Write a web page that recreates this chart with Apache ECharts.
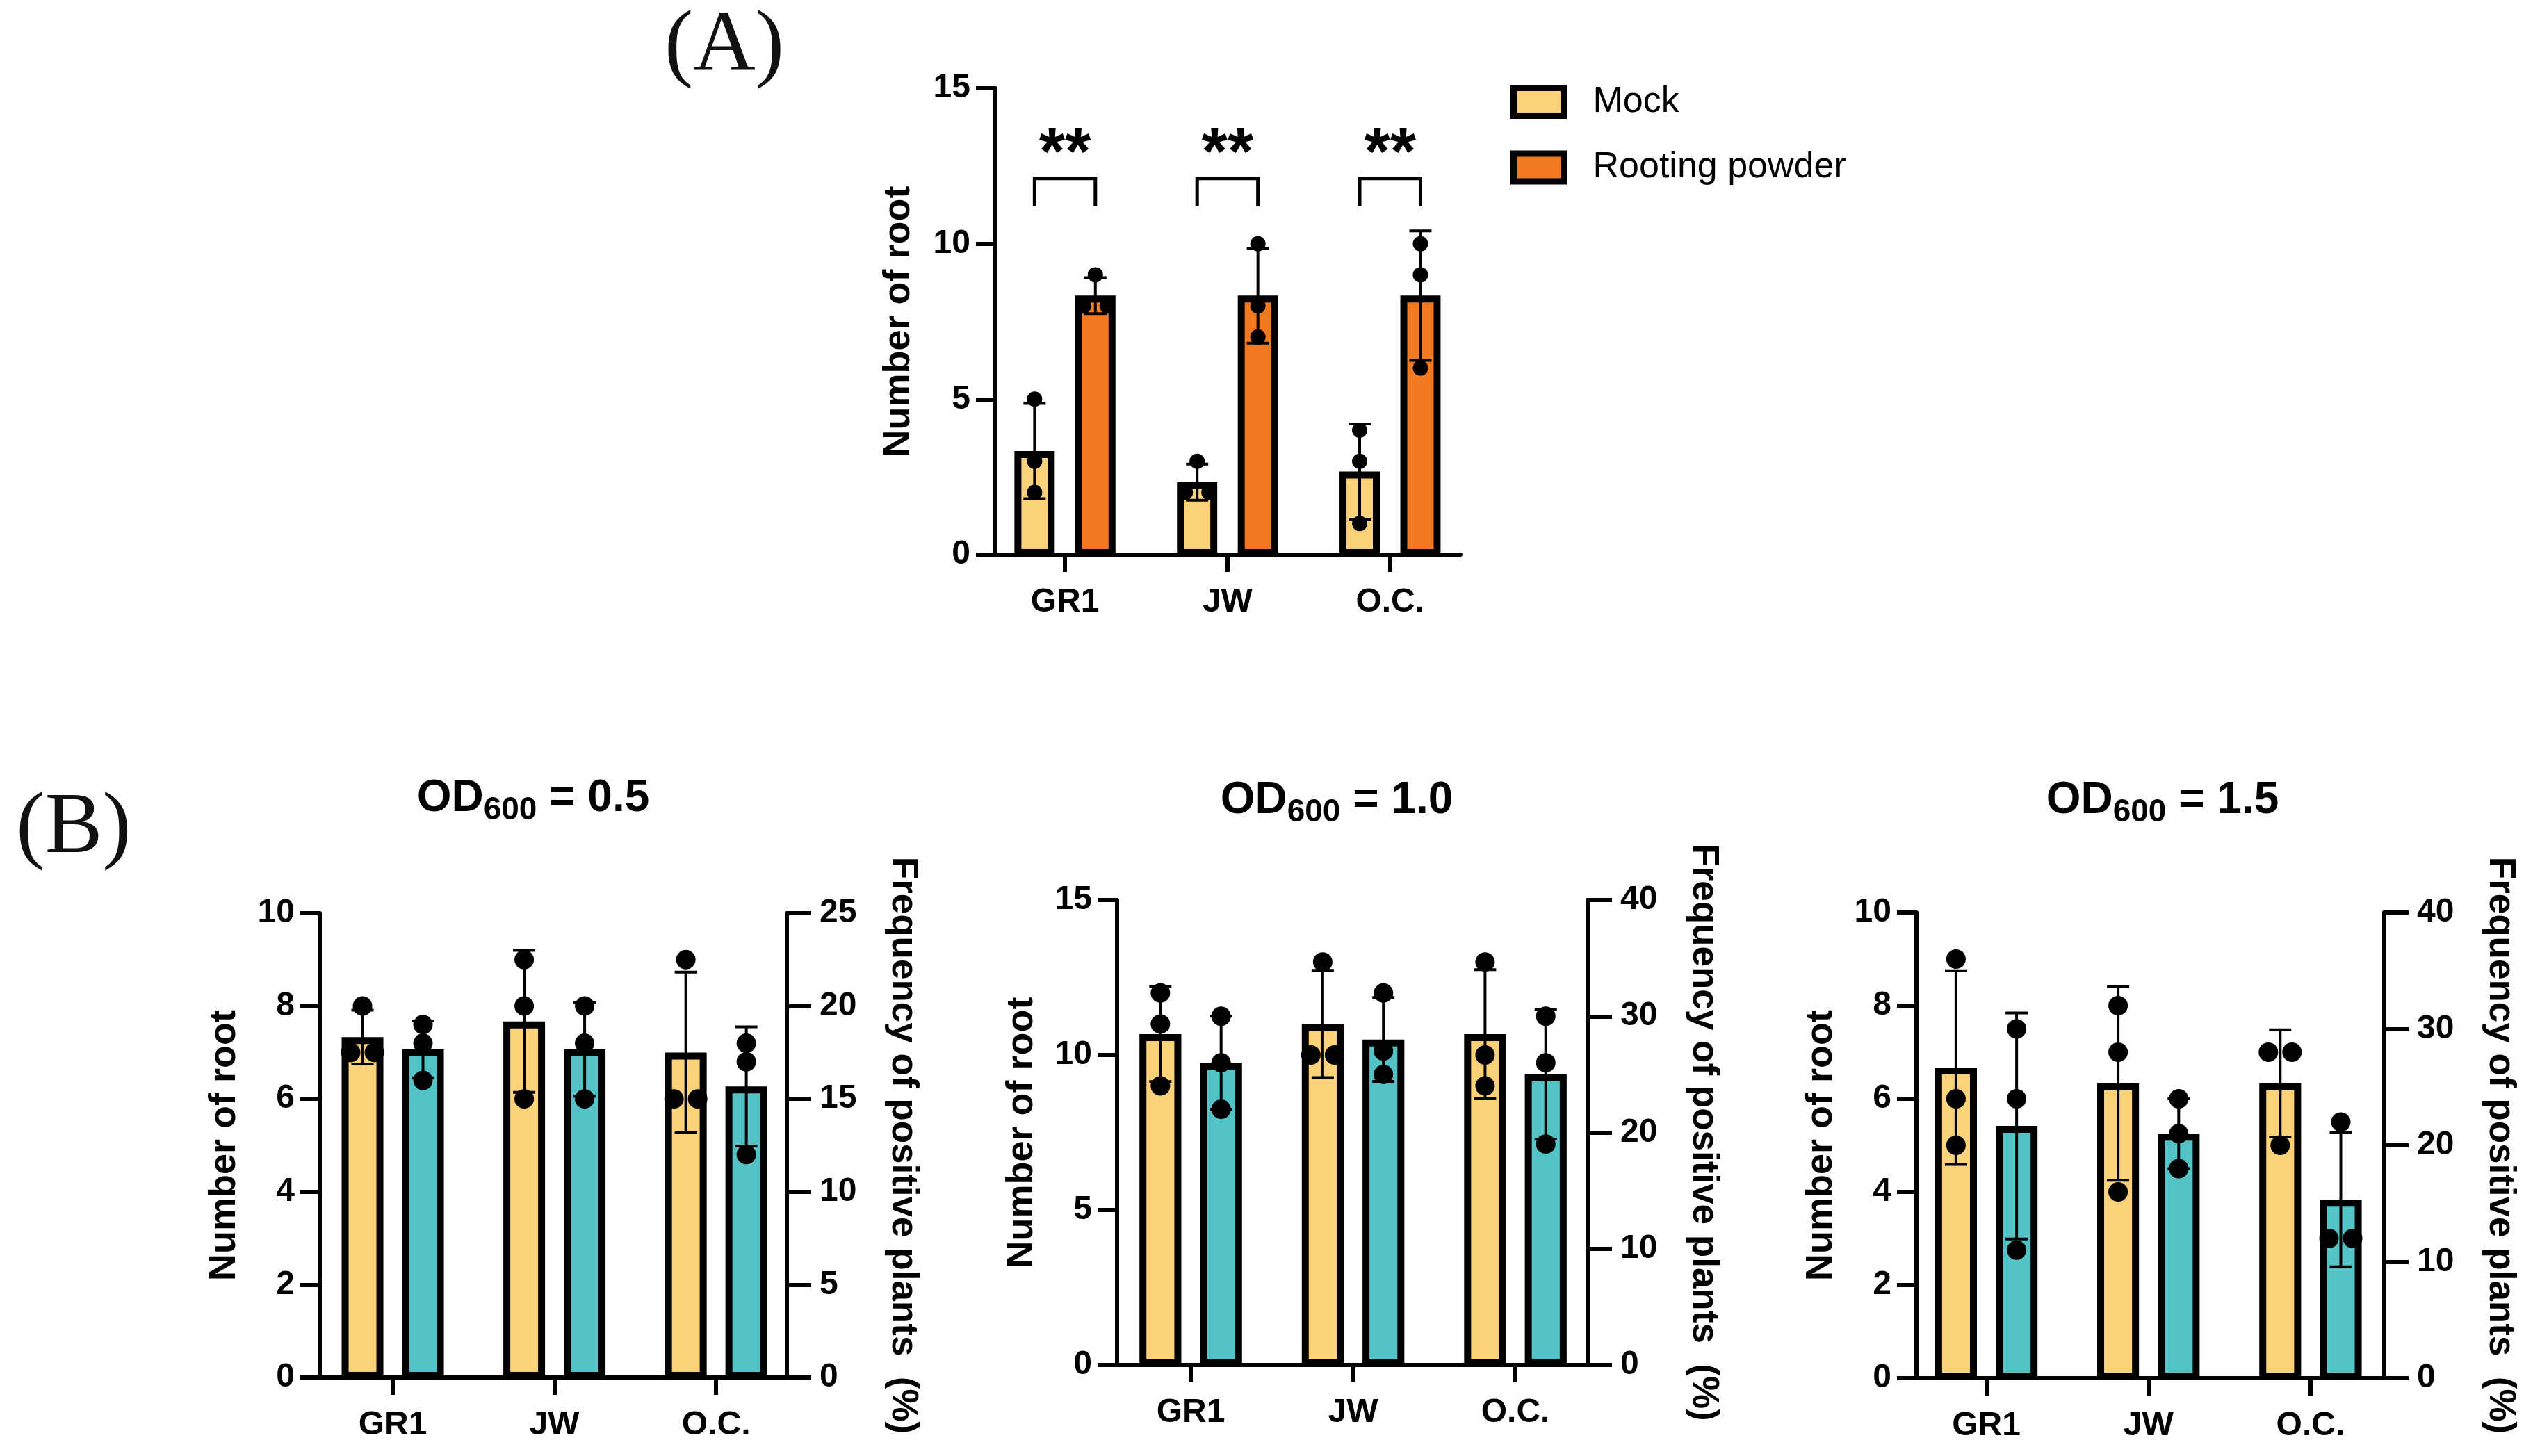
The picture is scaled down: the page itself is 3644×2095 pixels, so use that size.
<!DOCTYPE html>
<html><head><meta charset="utf-8">
<script src="https://cdn.jsdelivr.net/npm/echarts@6/dist/echarts.min.js"></script>
<style>html,body{margin:0;padding:0;background:#fff}#c{width:3644px;height:2095px}</style>
</head><body><div id="c"></div>
<script>
// ---------------- DATA ----------------
const categories = ['GR1', 'JW', 'O.C.'];

// Panel A: Number of root (Mock vs Rooting powder)
const aMockMean = [3.33, 2.33, 2.67];
const aMockSd   = [1.53, 0.58, 1.53];
const aMockPts  = [[5, 3, 2], [3, 2, 2], [4, 3, 1]];
const aRootMean = [8.33, 8.33, 8.33];
const aRootSd   = [0.58, 1.53, 2.08];
const aRootPts  = [[9, 8, 8], [10, 8, 7], [10, 9, 6]];
const aSigLabels = ['**', '**', '**'];
const aSigTop    = [12.1, 12.1, 12.1];
const aSigBase   = [11.2, 11.2, 11.2];
const aSigStar   = [13.2, 13.2, 13.2];

// Panel B, OD600 = 0.5
const b05RootMean = [7.33, 7.67, 7.0];
const b05RootSd   = [0.58, 1.53, 1.73];
const b05RootPts  = [[8, 7, 7], [9, 8, 6], [9, 6, 6]];
const b05FreqMean = [17.67, 17.67, 15.67];
const b05FreqSd   = [1.53, 2.52, 3.21];
const b05FreqPts  = [[19, 18, 16], [20, 18, 15], [18, 17, 12]];
// Panel B, OD600 = 1.0
const b10RootMean = [10.67, 11.0, 10.67];
const b10RootSd   = [1.53, 1.73, 2.08];
const b10RootPts  = [[12, 11, 9], [13, 10, 10], [13, 10, 9]];
const b10FreqMean = [26.0, 28.0, 25.0];
const b10FreqSd   = [4.0, 3.61, 5.57];
const b10FreqPts  = [[30, 26, 22], [32, 27, 25], [30, 26, 19]];
// Panel B, OD600 = 1.5
const b15RootMean = [6.67, 6.33, 6.33];
const b15RootSd   = [2.08, 2.08, 1.15];
const b15RootPts  = [[9, 6, 5], [8, 7, 4], [7, 7, 5]];
const b15FreqMean = [21.67, 21.0, 15.33];
const b15FreqSd   = [9.71, 3.0, 5.77];
const b15FreqPts  = [[30, 24, 11], [24, 21, 18], [22, 12, 12]];

// axis ranges / tick labels
const aLeftMax = 15, aLeftStep = 5;
const bLeftMax = [10, 15, 10], bLeftStep = [2, 5, 2];
const bRightMax = [25, 40, 40], bRightStep = [5, 10, 10];
const bTitles = ['0.5', '1.0', '1.5'];
const leftName = 'Number of root';
const rightName = 'Frequency of positive plants  (%)';

// ---------------- STYLE ----------------
const FONT = '"Liberation Sans", Arial, Helvetica, sans-serif';
const SERIF = '"Liberation Serif", "Times New Roman", serif';
const MOCK = '#FBD27A', ROOT = '#F27A21', TEAL = '#52C4C8';
const OFF = 0.187;
const STAR_SIZE = 96;

function makeBars(name, xi, yi, means, sds, pts, offset, color, barW, dotR) {
  return {
    type: 'custom', name: name, xAxisIndex: xi, yAxisIndex: yi, z: 3,
    itemStyle: { color: color, borderColor: '#000', borderWidth: 9 },
    encode: { x: 0, y: 1 },
    data: means.map((m, i) => [i, m, sds[i]].concat(pts[i])),
    renderItem: function (params, api) {
      const i = api.value(0), m = api.value(1), s = api.value(2);
      const p = [api.value(3), api.value(4), api.value(5)];
      const unit = api.size([1, 0])[0];
      const x = i + offset;
      const cx = api.coord([x, 0])[0];
      const y0 = api.coord([x, 0])[1];
      const yM = api.coord([x, m])[1];
      const bw = barW * unit;
      const SW = 10;
      const ch = [];
      ch.push({ type: 'rect', shape: { x: cx - bw / 2, y: yM + SW / 2, width: bw, height: Math.max(0, y0 - 3 - (yM + SW / 2)) },
        style: { fill: color, stroke: '#000', lineWidth: SW } });
      const yH = api.coord([x, m + s])[1], yL = api.coord([x, m - s])[1];
      const cw = 16;
      const ls = { stroke: '#000', lineWidth: 4 };
      ch.push({ type: 'line', shape: { x1: cx, y1: yH, x2: cx, y2: yL }, style: ls });
      ch.push({ type: 'line', shape: { x1: cx - cw, y1: yH, x2: cx + cw, y2: yH }, style: ls });
      ch.push({ type: 'line', shape: { x1: cx - cw, y1: yL, x2: cx + cw, y2: yL }, style: ls });
      p.forEach((v, k) => {
        const same = p.filter(q => q === v).length;
        const rank = p.slice(0, k).filter(q => q === v).length;
        const dx = (rank - (same - 1) / 2) * 34;
        ch.push({ type: 'circle', shape: { cx: cx + dx, cy: api.coord([x, v])[1], r: dotR }, style: { fill: '#000' } });
      });
      return { type: 'group', children: ch };
    }
  };
}

function xAx(gi, min, max) {
  return {
    type: 'value', gridIndex: gi, min: min, max: max, position: 'bottom',
    axisLine: { show: true, onZero: false, lineStyle: { color: '#000', width: 6 } },
    axisTick: { show: true, customValues: [0, 1, 2], length: 25, lineStyle: { color: '#000', width: 6 } },
    axisLabel: { show: true, customValues: [0, 1, 2], formatter: v => categories[Math.round(v)],
      fontSize: 48, fontWeight: 'bold', color: '#000', fontFamily: FONT, margin: 45 },
    splitLine: { show: false }
  };
}
function yAx(gi, max, step, pos, name, gap) {
  const right = pos === 'right';
  return {
    type: 'value', gridIndex: gi, min: 0, max: max, interval: step, position: pos,
    name: name, nameLocation: 'middle', nameGap: gap, nameRotate: right ? -90 : 90,
    nameTextStyle: { fontSize: right ? 53 : 54, fontWeight: 'bold', color: '#000', fontFamily: FONT },
    axisLine: { show: true, onZero: false, lineStyle: { color: '#000', width: 6 } },
    axisTick: { show: true, length: right ? 35 : 28, lineStyle: { color: '#000', width: 6 } },
    axisLabel: { fontSize: 48, fontWeight: 'bold', color: '#000', fontFamily: FONT, margin: right ? 47 : 36 },
    splitLine: { show: false }
  };
}

const grids = [
  { left: 1432, top: 127, width: 669, height: 671 },
  { left: 460, top: 1314, width: 672, height: 668 },
  { left: 1607, top: 1295, width: 677, height: 669 },
  { left: 2757, top: 1313, width: 673, height: 670 }
];
const xRanges = [[-0.428, 2.433], [-0.4516, 2.438], [-0.454, 2.445], [-0.431, 2.455]];

const xAxes = grids.map((g, i) => xAx(i, xRanges[i][0], xRanges[i][1]));
const yAxes = [yAx(0, aLeftMax, aLeftStep, 'left', leftName, 112)];
for (let k = 0; k < 3; k++) {
  yAxes.push(yAx(k + 1, bLeftMax[k], bLeftStep[k], 'left', leftName, 110));
  yAxes.push(yAx(k + 1, bRightMax[k], bRightStep[k], 'right', rightName, 140));
}

const series = [
  makeBars('Mock', 0, 0, aMockMean, aMockSd, aMockPts, -OFF, MOCK, 0.205, 11),
  makeBars('Rooting powder', 0, 0, aRootMean, aRootSd, aRootPts, OFF, ROOT, 0.205, 11),
  {
    type: 'custom', name: 'sig', xAxisIndex: 0, yAxisIndex: 0, z: 4, encode: { x: 0, y: 1 },
    data: aSigTop.map((t, i) => [i, t, aSigBase[i], aSigStar[i]]),
    renderItem: function (params, api) {
      const i = api.value(0);
      const xl = api.coord([i - OFF, 0])[0], xr = api.coord([i + OFF, 0])[0];
      const yt = api.coord([i, api.value(1)])[1], yb = api.coord([i, api.value(2)])[1];
      const ys = api.coord([i, api.value(3)])[1];
      return { type: 'group', children: [
        { type: 'polyline', shape: { points: [[xl, yb], [xl, yt], [xr, yt], [xr, yb]] }, style: { stroke: '#000', lineWidth: 5, fill: 'none' } },
        { type: 'text', x: (xl + xr) / 2, y: ys + 0.17 * STAR_SIZE, style: { text: aSigLabels[params.dataIndex], fontSize: STAR_SIZE, fontWeight: 'bold', fontFamily: FONT, fill: '#000', align: 'center', verticalAlign: 'middle' } }
      ] };
    }
  }
];
const bRoot = [[b05RootMean, b05RootSd, b05RootPts], [b10RootMean, b10RootSd, b10RootPts], [b15RootMean, b15RootSd, b15RootPts]];
const bFreq = [[b05FreqMean, b05FreqSd, b05FreqPts], [b10FreqMean, b10FreqSd, b10FreqPts], [b15FreqMean, b15FreqSd, b15FreqPts]];
for (let k = 0; k < 3; k++) {
  series.push(makeBars('Number of root ' + bTitles[k], k + 1, 1 + 2 * k, bRoot[k][0], bRoot[k][1], bRoot[k][2], -OFF, MOCK, 0.215, 14));
  series.push(makeBars('Frequency ' + bTitles[k], k + 1, 2 + 2 * k, bFreq[k][0], bFreq[k][1], bFreq[k][2], OFF, TEAL, 0.215, 14));
}

const titleRich = {
  a: { fontSize: 64, fontWeight: 'bold', lineHeight: 80, fontFamily: FONT, color: '#000' },
  s: { fontSize: 46, fontWeight: 'bold', lineHeight: 40, verticalAlign: 'bottom', fontFamily: FONT, color: '#000' }
};
const titlePos = [[767, 1109], [1923, 1112], [3111, 1112]];
const titles = bTitles.map((t, k) => ({
  text: '{a|OD}{s|600}{a| = ' + t + '}', left: titlePos[k][0], top: titlePos[k][1], textAlign: 'center', padding: 0,
  textStyle: { rich: titleRich }
}));
titles.push({ text: '(A)', left: 1042, top: 6, textAlign: 'center', padding: 0,
  textStyle: { fontFamily: SERIF, fontSize: 124, fontWeight: 'normal', color: '#111', lineHeight: 124 } });
titles.push({ text: '(B)', left: 106, top: 1131, textAlign: 'center', padding: 0,
  textStyle: { fontFamily: SERIF, fontSize: 124, fontWeight: 'normal', color: '#111', lineHeight: 124 } });

const chart = echarts.init(document.getElementById('c'), null, { renderer: 'canvas' });
chart.setOption({
  backgroundColor: '#fff',
  animation: false,
  title: titles,
  legend: {
    orient: 'vertical', left: 2173, top: 120.5, itemWidth: 72, itemHeight: 40, itemGap: 42.5,
    icon: 'rect', selectedMode: false, padding: 0,
    textStyle: { fontSize: 52, color: '#000', fontFamily: FONT, lineHeight: 52, padding: [0, 0, 0, 37] },
    data: [
      { name: 'Mock', itemStyle: { color: MOCK, borderColor: '#000', borderWidth: 9 } },
      { name: 'Rooting powder', itemStyle: { color: ROOT, borderColor: '#000', borderWidth: 9 } }
    ]
  },
  grid: grids,
  xAxis: xAxes,
  yAxis: yAxes,
  series: series
});
</script>
</body></html>
